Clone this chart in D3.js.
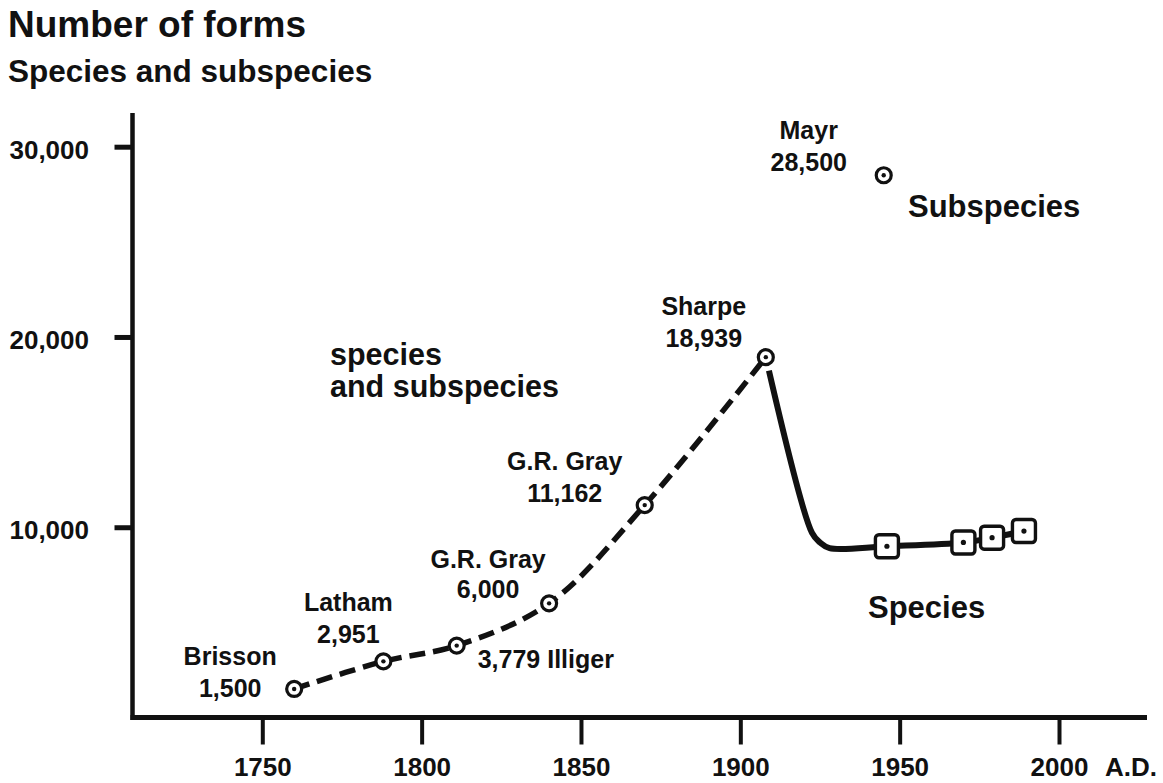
<!DOCTYPE html>
<html>
<head>
<meta charset="utf-8">
<script src="https://cdn.jsdelivr.net/npm/d3@7"></script>
<style>
  html, body { margin: 0; padding: 0; background: #ffffff; }
  svg text {
    font-family: "Liberation Sans", Arial, Helvetica, sans-serif;
    font-weight: bold;
    fill: #111111;
  }
</style>
</head>
<body>
<svg id="chart" width="1163" height="783"></svg>
<script>
// Catalogued bird forms (species and subspecies together), by author
const catalogueAuthors = ["Brisson", "Latham", "Illiger", "G.R. Gray", "G.R. Gray", "Sharpe"];
const catalogueYears   = [1760, 1788, 1811, 1840, 1870, 1908];
const catalogueForms   = [1500, 2951, 3779, 6000, 11162, 18939];

// Subspecies estimate
const subspeciesAuthors = ["Mayr"];
const subspeciesYears   = [1945];
const subspeciesForms   = [28500];

// Species-level checklists
const speciesYears = [1946, 1970, 1979, 1989];
const speciesForms = [9000, 9200, 9450, 9800];

// Course of the species curve from Sharpe's total down to the first checklist
const transitionYears = [1908, 1922.5, 1925, 1928];
const transitionForms = [18939, 9700, 9200, 8900];

// Axis ticks
const xTicks = [1750, 1800, 1850, 1900, 1950, 2000];
const yTicks = [10000, 20000, 30000];

// ---------------------------------------------------------------------------
const svg = d3.select("#chart");
const ink = "#111111";

const x = d3.scaleLinear().domain([1750, 2000]).range([262.3, 1059]);
const y = d3.scaleLinear().domain([0, 30000]).range([717.5, 146.7]);

const axisX0 = 132.5;     // vertical axis position
const axisTop = 113;      // top end of vertical axis
const axisRight = 1147;   // right end of horizontal axis
const fmt = d3.format(",");

// Titles
svg.append("text").attr("x", 8).attr("y", 37)
  .style("font-size", "37px").text("Number of forms");
svg.append("text").attr("x", 8).attr("y", 82)
  .style("font-size", "31.5px").text("Species and subspecies");

// Axis lines
svg.append("line")
  .attr("x1", axisX0).attr("x2", axisX0)
  .attr("y1", axisTop).attr("y2", y(0) + 2.5)
  .attr("stroke", ink).attr("stroke-width", 4.5);
svg.append("line")
  .attr("x1", axisX0 - 2).attr("x2", axisRight)
  .attr("y1", y(0)).attr("y2", y(0))
  .attr("stroke", ink).attr("stroke-width", 5);

// Bottom axis (years)
const gx = svg.append("g")
  .attr("transform", `translate(0,${y(0)})`)
  .call(d3.axisBottom(x).tickValues(xTicks).tickFormat(d3.format("d"))
    .tickSize(27).tickPadding(13));
gx.select(".domain").remove();
gx.selectAll(".tick line").attr("stroke", ink).attr("stroke-width", 4);
gx.selectAll(".tick text")
  .attr("fill", ink).attr("dy", "0.71em")
  .style("font-size", "26px");
gx.attr("font-family", null).attr("font-size", null);

svg.append("text")
  .attr("x", x(2000) + 46).attr("y", 776)
  .style("font-size", "26px").text("A.D.");

// Left axis (number of forms)
const gy = svg.append("g")
  .attr("transform", `translate(${axisX0},0)`)
  .call(d3.axisLeft(y).tickValues(yTicks).tickFormat(fmt)
    .tickSize(18).tickPadding(25.5));
gy.select(".domain").remove();
gy.selectAll(".tick line").attr("stroke", ink).attr("stroke-width", 5);
gy.selectAll(".tick text")
  .attr("fill", ink).attr("dy", "0.45em")
  .style("font-size", "26px");
gy.attr("font-family", null).attr("font-size", null);

// ---------------------------------------------------------------------------
// Curves
const catalogue = catalogueYears.map((yr, i) => ({
  year: yr, forms: catalogueForms[i], author: catalogueAuthors[i]
}));
const subspecies = subspeciesYears.map((yr, i) => ({
  year: yr, forms: subspeciesForms[i], author: subspeciesAuthors[i]
}));
const species = speciesYears.map((yr, i) => ({ year: yr, forms: speciesForms[i] }));
const speciesCourse = transitionYears.map((yr, i) => ({ year: yr, forms: transitionForms[i] }))
  .concat(species);

const curve = d3.line()
  .x(d => x(d.year))
  .y(d => y(d.forms))
  .curve(d3.curveCatmullRom.alpha(0.5));

// species + subspecies: dashed
svg.append("path")
  .datum(catalogue)
  .attr("d", curve)
  .attr("fill", "none")
  .attr("stroke", ink)
  .attr("stroke-width", 5.5)
  .attr("stroke-dasharray", "16 8");

// species only: solid, leaving a small gap under Sharpe's marker
const speciesPath = svg.append("path")
  .datum(speciesCourse)
  .attr("d", curve)
  .attr("fill", "none")
  .attr("stroke", ink)
  .attr("stroke-width", 6)
  .attr("stroke-linejoin", "round");
const speciesLen = speciesPath.node().getTotalLength();
speciesPath.attr("stroke-dasharray", `0 14 ${speciesLen}`);

// ---------------------------------------------------------------------------
// Markers
function circleMarkers(data) {
  const g = svg.append("g").selectAll("g").data(data).join("g")
    .attr("transform", d => `translate(${x(d.year)},${y(d.forms)})`);
  g.append("circle").attr("r", 7.5)
    .attr("fill", "#ffffff").attr("stroke", ink).attr("stroke-width", 3.2);
  g.append("circle").attr("r", 2.2).attr("fill", ink);
}
circleMarkers(catalogue);
circleMarkers(subspecies);

const sq = svg.append("g").selectAll("g").data(species).join("g")
  .attr("transform", d => `translate(${x(d.year)},${y(d.forms)})`);
sq.append("rect")
  .attr("x", -11.5).attr("y", -11.5).attr("width", 23).attr("height", 23)
  .attr("rx", 3.5)
  .attr("fill", "#ffffff").attr("stroke", ink).attr("stroke-width", 3.4);
sq.append("circle").attr("r", 2.6).attr("fill", ink);

// ---------------------------------------------------------------------------
// Point labels (offsets from each marker)
const catalogueLabelLayout = [
  { dx: -64, dy: [-24, 8] },
  { dx: -35, dy: [-50, -18] },
  { dx: 21,  dy: [22], inline: true },
  { dx: -61, dy: [-35, -5] },
  { dx: -80, dy: [-35, -3] },
  { dx: -62, dy: [-42, -10] }
];
const subspeciesLabelLayout = [{ dx: -75, dy: [-36, -4] }];

function pointLabels(data, layout) {
  data.forEach((d, i) => {
    const L = layout[i];
    const px = x(d.year), py = y(d.forms);
    const lines = L.inline ? [`${fmt(d.forms)} ${d.author}`] : [d.author, fmt(d.forms)];
    lines.forEach((t, j) => {
      svg.append("text")
        .attr("x", px + L.dx)
        .attr("y", py + L.dy[j])
        .attr("text-anchor", L.inline ? "start" : "middle")
        .style("font-size", "25px")
        .text(t);
    });
  });
}
pointLabels(catalogue, catalogueLabelLayout);
pointLabels(subspecies, subspeciesLabelLayout);

// Curve names
svg.append("text").attr("x", 330).attr("y", 365)
  .style("font-size", "30.5px").text("species");
svg.append("text").attr("x", 330).attr("y", 397)
  .style("font-size", "30.5px").text("and subspecies");
svg.append("text").attr("x", 908).attr("y", 217)
  .style("font-size", "31px").text("Subspecies");
svg.append("text").attr("x", 868).attr("y", 618)
  .style("font-size", "31px").text("Species");
</script>
</body>
</html>
